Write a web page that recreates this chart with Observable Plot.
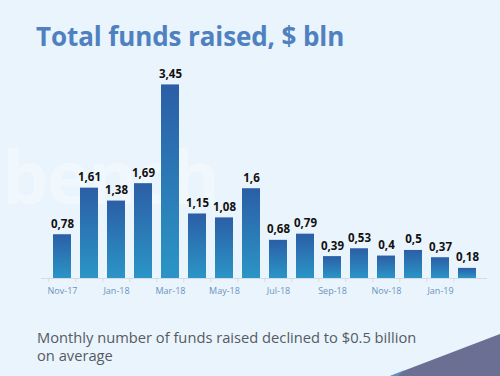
<!DOCTYPE html>
<html>
<head>
<meta charset="utf-8">
<script src="https://cdn.jsdelivr.net/npm/d3@7"></script>
<script src="https://cdn.jsdelivr.net/npm/@observablehq/plot@0.6"></script>
<style>
  html, body { margin: 0; padding: 0; }
  body { width: 500px; height: 376px; overflow: hidden; background: #eaf4fc; position: relative; font-family: "Open Sans", sans-serif; }
  #title { position: absolute; left: 36px; top: 18px; font-size: 26px; font-weight: 700; color: #4f80bf; white-space: nowrap; letter-spacing: -0.1px; }
  #wm { position: absolute; left: 2px; top: 125px; font-size: 74px; font-weight: 700; color: rgba(255,255,255,0.35); white-space: nowrap; letter-spacing: -2px; }
  #chart { position: absolute; left: 0; top: 60px; }
  #caption { position: absolute; left: 37px; top: 328px; font-size: 14.7px; line-height: 18px; color: #555b63; width: 420px; }
  #corner { position: absolute; left: 0; top: 0; }
</style>
</head>
<body>
<div id="wm">bench</div>
<div id="title">Total funds raised, $ bln</div>
<div id="chart"></div>
<div id="caption">Monthly number of funds raised declined to $0.5 billion<br>on average</div>
<svg id="corner" width="500" height="376"><polygon points="390,376 500,334 500,376" fill="#6b6f93"/><polygon points="390,376 404,370 398,376" fill="#5aa6cf" opacity="0.6"/></svg>
<script>
const months = ["Nov-17","Dec-17","Jan-18","Feb-18","Mar-18","Apr-18","May-18","Jun-18","Jul-18","Aug-18","Sep-18","Oct-18","Nov-18","Dec-18","Jan-19","Feb-19"];
const values = [0.78, 1.61, 1.38, 1.69, 3.45, 1.15, 1.08, 1.6, 0.68, 0.79, 0.39, 0.53, 0.4, 0.5, 0.37, 0.18];
const valueLabels = ["0,78","1,61","1,38","1,69","3,45","1,15","1,08","1,6","0,68","0,79","0,39","0,53","0,4","0,5","0,37","0,18"];
const tickLabels = ["Nov-17","Jan-18","Mar-18","May-18","Jul-18","Sep-18","Nov-18","Jan-19"];

const data = months.map((m, i) => ({month: m, value: values[i], label: valueLabels[i]}));
const W = 500, ML = 41, MR = 13;
const step = (W - ML - MR) / (months.length + 0.34);

const chart = Plot.plot({
  width: W,
  height: 245,
  marginTop: 16,
  marginBottom: 27,
  marginLeft: ML,
  marginRight: MR,
  style: {background: "transparent", fontFamily: "Open Sans, sans-serif"},
  x: {domain: months, padding: 0.34, label: null},
  y: {domain: [0, 3.6], axis: null},
  marks: [
    Plot.ruleY([0], {stroke: "#d3dbe3", strokeWidth: 1}),
    Plot.ruleX(months, {x: d => d, dx: -step / 2, y1: 0, y2: -0.07, stroke: "#d3dbe3"}),
    Plot.barY(data, {x: "month", y: "value", fill: "url(#barGrad)"}),
    Plot.text(data, {x: "month", y: "value", text: "label", dy: -7, lineAnchor: "bottom", fontSize: 11.5, fontWeight: 700, fill: "#111"}),
    Plot.axisX({ticks: tickLabels, tickSize: 0, tickPadding: 9, fontSize: 9, color: "#6a93bd", label: null})
  ]
});

const svgNS = "http://www.w3.org/2000/svg";
const defs = document.createElementNS(svgNS, "defs");
defs.innerHTML = '<linearGradient id="barGrad" x1="0" y1="0" x2="0" y2="1"><stop offset="0" stop-color="#2b5ea6"/><stop offset="1" stop-color="#2b95c6"/></linearGradient>';
chart.insertBefore(defs, chart.firstChild);
document.getElementById("chart").appendChild(chart);
</script>
</body>
</html>
